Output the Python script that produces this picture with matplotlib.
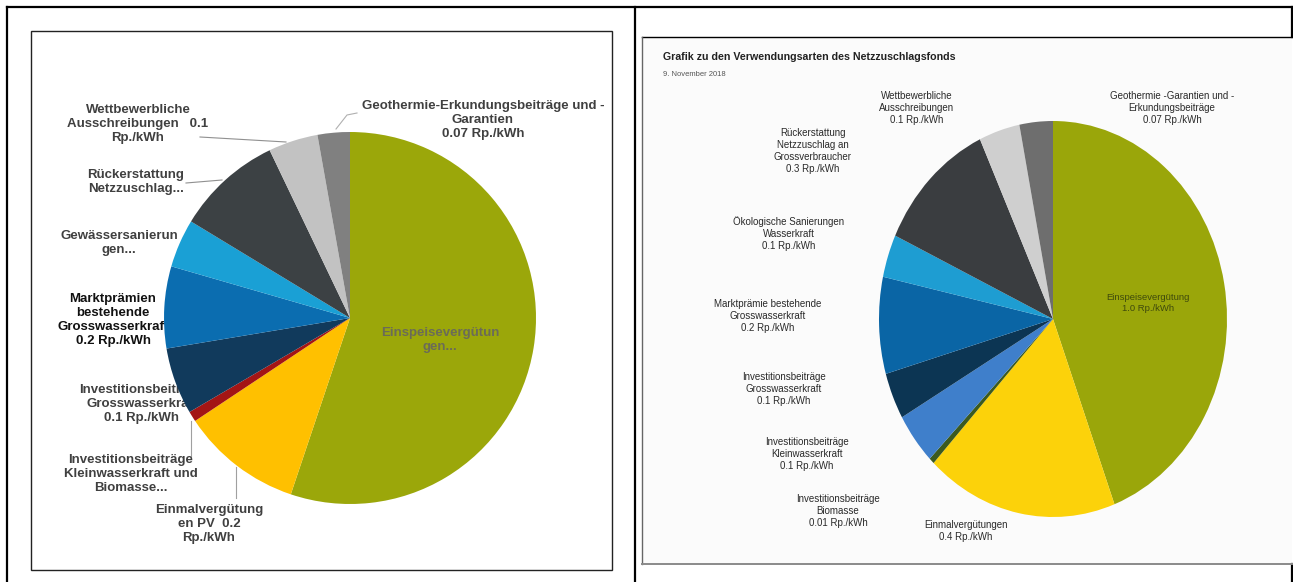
import matplotlib
matplotlib.use('Agg')
import matplotlib.pyplot as plt
from matplotlib.patches import Rectangle

W, H = 1293, 582

# left chart: shares in percent, clockwise from the top
left_names = ['Einspeisevergütungen', 'Einmalvergütungen PV', 'Investitionsbeiträge Kleinwasserkraft und Biomasse',
              'Investitionsbeiträge Grosswasserkraft', 'Marktprämien bestehende Grosswasserkraft',
              'Gewässersanierungen', 'Rückerstattung Netzzuschlag', 'Wettbewerbliche Ausschreibungen',
              'Geothermie-Erkundungsbeiträge und -Garantien']
left_share = [55.1, 10.5, 0.9, 5.8, 7.1, 4.2, 9.2, 4.3, 2.8]
left_colors = ['#9ba70a', '#ffc000', '#a31515', '#113a5c', '#0b6db0', '#1aa0d5', '#3c4144', '#c2c2c2', '#808080']
left_labels = ['Geothermie-Erkundungsbeiträge und -\nGarantien\n0.07 Rp./kWh',
               'Wettbewerbliche\nAusschreibungen   0.1\nRp./kWh',
               'Rückerstattung\nNetzzuschlag...',
               'Gewässersanierun\ngen...',
               'Marktprämien\nbestehende\nGrosswasserkraft\n0.2 Rp./kWh',
               'Investitionsbeiträge\nGrosswasserkraft\n0.1 Rp./kWh',
               'Investitionsbeiträge\nKleinwasserkraft und\nBiomasse...',
               'Einmalvergütung\nen PV  0.2\nRp./kWh']
left_inside = 'Einspeisevergütun\ngen...'

# right chart: shares in percent, clockwise from the top
right_names = ['Einspeisevergütung', 'Einmalvergütungen', 'Investitionsbeiträge Biomasse',
               'Investitionsbeiträge Kleinwasserkraft', 'Investitionsbeiträge Grosswasserkraft',
               'Marktprämie bestehende Grosswasserkraft', 'Ökologische Sanierungen Wasserkraft',
               'Rückerstattung Netzzuschlag an Grossverbraucher', 'Wettbewerbliche Ausschreibungen',
               'Geothermie -Garantien und -Erkundungsbeiträge']
right_share = [44.3, 17.8, 0.5, 4.2, 3.8, 7.9, 3.5, 11.2, 3.8, 3.1]
right_colors = ['#9aa60a', '#fcd20a', '#3b5a20', '#3f7fcb', '#0c3553', '#0a65a5', '#1e9dd2', '#3a3d40', '#cfcfcf', '#6e6e6e']
right_labels = ['Wettbewerbliche\nAusschreibungen\n0.1 Rp./kWh',
                'Geothermie -Garantien und -\nErkundungsbeiträge\n0.07 Rp./kWh',
                'Rückerstattung\nNetzzuschlag an\nGrossverbraucher\n0.3 Rp./kWh',
                'Ökologische Sanierungen\nWasserkraft\n0.1 Rp./kWh',
                'Marktprämie bestehende\nGrosswasserkraft\n0.2 Rp./kWh',
                'Investitionsbeiträge\nGrosswasserkraft\n0.1 Rp./kWh',
                'Investitionsbeiträge\nKleinwasserkraft\n0.1 Rp./kWh',
                'Investitionsbeiträge\nBiomasse\n0.01 Rp./kWh',
                'Einmalvergütungen\n0.4 Rp./kWh']
right_inside = 'Einspeisevergütung\n1.0 Rp./kWh'
right_title = 'Grafik zu den Verwendungsarten des Netzzuschlagsfonds'
right_date = '9. November 2018'

FONT = ['Liberation Sans Narrow', 'Liberation Sans', 'DejaVu Sans']
plt.rcParams['font.family'] = FONT

fig = plt.figure(figsize=(W / 100, H / 100), dpi=100)
fig.patch.set_facecolor('white')

# background axes in pixel coordinates for frames and labels
bg = fig.add_axes([0, 0, 1, 1])
bg.set_xlim(0, W)
bg.set_ylim(H, 0)
bg.axis('off')

# outer table frame
bg.plot([7, 1292], [7, 7], color='black', lw=1.6)
bg.plot([7, 7], [7, H], color='black', lw=1.6)
bg.plot([635, 635], [7, H], color='black', lw=1.6)
bg.plot([1292, 1292], [7, 37], color='black', lw=1.6)
bg.plot([1292, 1292], [564, H], color='black', lw=1.6)

# left chart area
bg.add_patch(Rectangle((31, 31), 581, 539, fill=False, edgecolor='#222222', lw=1.0))
# right picture area (scanned, slightly grey)
bg.add_patch(Rectangle((642, 37), 650, 527, facecolor='#fbfbfb', edgecolor='none'))
bg.plot([642, 1292], [37, 37], color='black', lw=1.0)
bg.plot([642, 642], [37, 564], color='#666666', lw=1.0)
bg.plot([642, 1292], [564, 564], color='#8a8a8a', lw=1.4)


def pie_axes(cx, cy, rx, ry):
    ax = fig.add_axes([(cx - rx) / W, 1 - (cy + ry) / H, 2 * rx / W, 2 * ry / H])
    ax.axis('off')
    return ax


# left pie
axl = pie_axes(350, 318, 186, 186)
axl.pie(left_share, colors=left_colors, startangle=90, counterclock=False,
        wedgeprops=dict(linewidth=0))
axl.set_aspect('auto')
axl.set_xlim(-1, 1)
axl.set_ylim(-1, 1)
axl.text(0.485, -0.12, left_inside, ha='center', va='center', fontsize=9.5,
         fontweight='bold', color='#6b6b58', linespacing=1.25)

# left labels (x, y centre in pixels)
left_pos = [(483, 120), (138, 124), (136, 182), (119, 243), (113, 320), (142, 404), (131, 474), (209, 524)]
left_col = ['#404040', '#404040', '#404040', '#404040', '#111111', '#404040', '#404040', '#404040']
for txt, (x, y), c in zip(left_labels, left_pos, left_col):
    bg.text(x, y, txt, ha='center', va='center', fontsize=9.5, fontweight='bold',
            color=c, linespacing=1.2, zorder=3)

# leader lines
bg.plot([357, 347, 336], [113, 115, 129], color='#b0b0b0', lw=0.8)
bg.plot([200, 286], [137, 142], color='#909090', lw=0.8)
bg.plot([186, 222], [183, 180], color='#909090', lw=0.8)
bg.plot([191, 191], [421, 457], color='#a0a0a0', lw=0.8)
bg.plot([236, 236], [467, 498], color='#a0a0a0', lw=0.8)

# right pie (stretched scan, so an ellipse)
axr = pie_axes(1053, 319, 174, 198)
axr.pie(right_share, colors=right_colors, startangle=90, counterclock=False,
        wedgeprops=dict(linewidth=0))
axr.set_aspect('auto')
axr.set_xlim(-1, 1)
axr.set_ylim(-1, 1)
axr.text(0.546, 0.08, right_inside, ha='center', va='center', fontsize=6.8,
         color='#3f4a0c', linespacing=1.3)

bg.text(663, 57, right_title, ha='left', va='center', fontsize=7.7, fontweight='bold', color='#222222')
bg.text(663, 74, right_date, ha='left', va='center', fontsize=5.5, color='#555555')

right_pos = [(917, 108), (1172, 108), (813, 151), (789, 234), (768, 316), (784, 389), (807, 454), (838, 511), (966, 531)]
for txt, (x, y) in zip(right_labels, right_pos):
    bg.text(x, y, txt, ha='center', va='center', fontsize=7, color='#2a2a2a', linespacing=1.25)

fig.savefig('out.png', dpi=100)
